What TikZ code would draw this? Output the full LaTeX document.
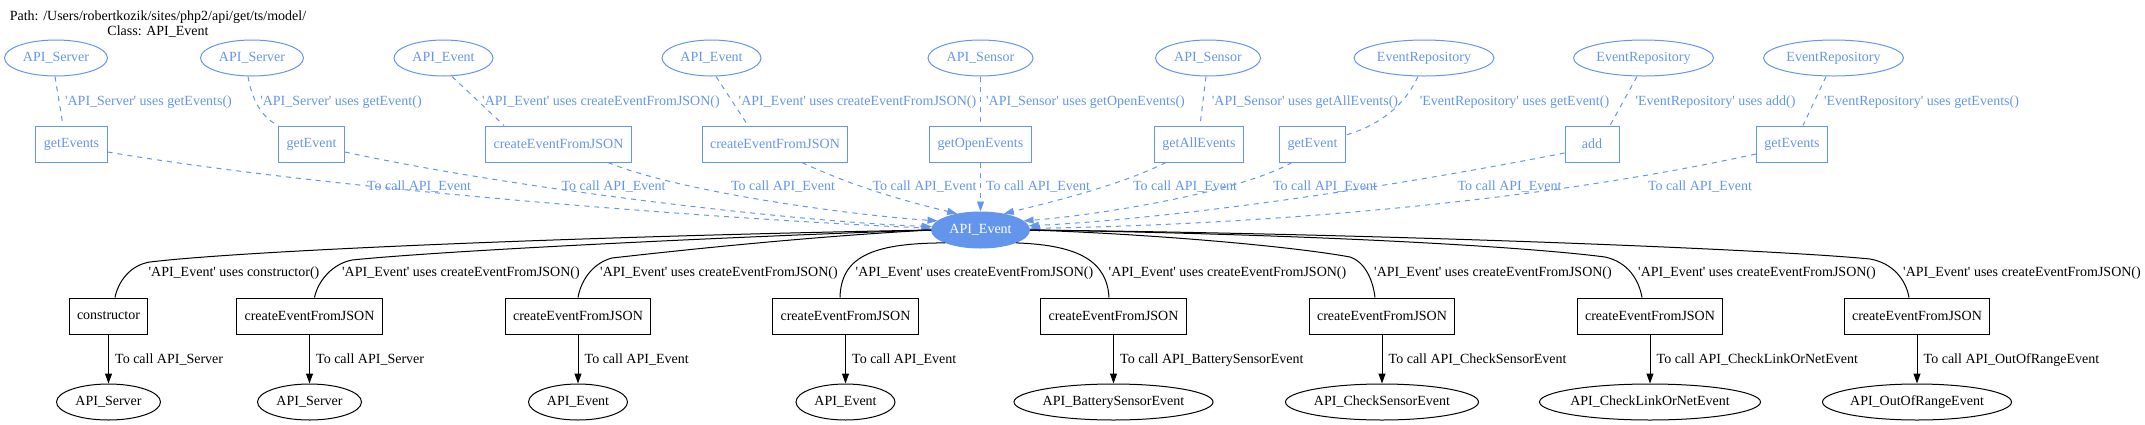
\documentclass[tikz,border=0pt]{standalone}
\usepackage{fontspec}
\newfontfamily\gv{Liberation Serif}
\usetikzlibrary{shapes.geometric,arrows.meta}
\definecolor{cb}{HTML}{6495ED}
\begin{document}
\begin{tikzpicture}[x=1pt,y=-1pt,
  every node/.style={font=\gv\fontsize{14}{14}\selectfont},
  mbox/.style={rectangle,draw,line width=1pt,minimum width=54pt,minimum height=36pt,inner xsep=8pt,inner ysep=0pt},
  mell/.style={ellipse,draw,line width=1pt,minimum height=36pt,inner sep=-20pt},
  bluenode/.style={draw=cb,text=cb},
  blab/.style={text=cb,inner sep=0pt},
  klab/.style={text=black,inner sep=0pt},
  dsh/.style={draw=cb,line width=1pt,dash pattern=on 5pt off 5pt},
  darr/.style={dsh,-{Triangle[length=10pt,width=7pt,fill=cb,line width=0.8pt]}},
  sol/.style={draw=black,line width=1pt},
  sarr/.style={sol,-{Triangle[length=10pt,width=7pt]}}
]
\useasboundingbox (0,0) rectangle (2145,424);

% title
\node[align=center,inner sep=0pt,font=\gv\fontsize{14}{15.5}\selectfont] (title) at (158,24) {Path: /Users/robertkozik/sites/php2/api/get/ts/model/\\Class: API\_Event};

% top ellipses
\node[mell,bluenode,minimum width=103pt] (t1) at (56,58) {API\_Server};
\node[mell,bluenode,minimum width=103pt] (t2) at (252,58) {API\_Server};
\node[mell,bluenode,minimum width=99pt] (t3) at (443.5,58) {API\_Event};
\node[mell,bluenode,minimum width=99pt] (t4) at (711.5,58) {API\_Event};
\node[mell,bluenode,minimum width=105pt] (t5) at (980.5,58) {API\_Sensor};
\node[mell,bluenode,minimum width=105pt] (t6) at (1208,58) {API\_Sensor};
\node[mell,bluenode,minimum width=140pt] (t7) at (1424,58) {EventRepository};
\node[mell,bluenode,minimum width=140pt] (t8) at (1643.5,58) {EventRepository};
\node[mell,bluenode,minimum width=140pt] (t9) at (1833.5,58) {EventRepository};

% top boxes
\node[mbox,bluenode] (b1) at (71.5,144) {getEvents};
\node[mbox,bluenode] (b2) at (311.5,144) {getEvent};
\node[mbox,bluenode] (b3) at (558.5,144) {createEventFromJSON};
\node[mbox,bluenode] (b4) at (775,144) {createEventFromJSON};
\node[mbox,bluenode] (b5) at (980.5,144) {getOpenEvents};
\node[mbox,bluenode] (b6) at (1199,144) {getAllEvents};
\node[mbox,bluenode] (b7) at (1312.5,144) {getEvent};
\node[mbox,bluenode] (b8) at (1592,144) {add};
\node[mbox,bluenode] (b9) at (1792,144) {getEvents};

% center
\node[mell,draw=cb,fill=cb,text=white,minimum width=98pt] (c) at (980.5,230) {API\_Event};

% bottom boxes
\node[mbox] (bb1) at (108.5,316) {constructor};
\node[mbox] (bb2) at (309.5,316) {createEventFromJSON};
\node[mbox] (bb3) at (578,316) {createEventFromJSON};
\node[mbox] (bb4) at (845.5,316) {createEventFromJSON};
\node[mbox] (bb5) at (1113.5,316) {createEventFromJSON};
\node[mbox] (bb6) at (1382,316) {createEventFromJSON};
\node[mbox] (bb7) at (1650,316) {createEventFromJSON};
\node[mbox] (bb8) at (1917,316) {createEventFromJSON};

% bottom ellipses
\node[mell,minimum width=104pt] (be1) at (108.5,402) {API\_Server};
\node[mell,minimum width=104pt] (be2) at (309.5,402) {API\_Server};
\node[mell,minimum width=99pt] (be3) at (578,402) {API\_Event};
\node[mell,minimum width=99pt] (be4) at (845.5,402) {API\_Event};
\node[mell,minimum width=199pt] (be5) at (1113.5,402) {API\_BatterySensorEvent};
\node[mell,minimum width=193pt] (be6) at (1382,402) {API\_CheckSensorEvent};
\node[mell,minimum width=221pt] (be7) at (1650,402) {API\_CheckLinkOrNetEvent};
\node[mell,minimum width=189pt] (be8) at (1917,402) {API\_OutOfRangeEvent};

% top edges: ellipse -> box
\draw[dsh] ([xshift=-1pt]t1.south) -- ([xshift=-8.5pt]b1.north);
\draw[dsh] ([xshift=-4pt]t2.south) .. controls (252,100) and (262,118) .. ([xshift=-33pt]b2.north);
\draw[dsh] ([xshift=8.5pt]t3.south) -- ([xshift=-54.5pt]b3.north);
\draw[dsh] ([xshift=4.5pt]t4.south) -- ([xshift=-27pt]b4.north);
\draw[dsh] (t5.south) -- (b5.north);
\draw[dsh] ([xshift=-2pt]t6.south) -- ([xshift=1pt]b6.north);
\draw[dsh] ([xshift=-6pt]t7.south) .. controls (1405,105) and (1380,125) .. ([yshift=9pt]b7.east);
\draw[dsh] ([xshift=-6.5pt]t8.south) -- ([xshift=18pt]b8.north);
\draw[dsh] ([xshift=-7.5pt]t9.south) -- ([xshift=11pt]b9.north);

\node[blab] (l1) at (148.5,102) {'API\_Server' uses getEvents()};
\node[blab] (l2) at (341,102) {'API\_Server' uses getEvent()};
\node[blab] (l3) at (601,102) {'API\_Event' uses createEventFromJSON()};
\node[blab] (l4) at (857.5,102) {'API\_Event' uses createEventFromJSON()};
\node[blab] (l5) at (1085.5,102) {'API\_Sensor' uses getOpenEvents()};
\node[blab] (l6) at (1305,102) {'API\_Sensor' uses getAllEvents()};
\node[blab] (l7) at (1514.5,102) {'EventRepository' uses getEvent()};
\node[blab] (l8) at (1715.5,102) {'EventRepository' uses add()};
\node[blab] (l9) at (1921.5,102) {'EventRepository' uses getEvents()};

% top edges: box -> center
\draw[darr] ([yshift=-8pt]b1.east) .. controls (320,188) and (700,218) .. (c.178);
\draw[darr] ([yshift=-8pt]b2.east) .. controls (520,190) and (800,222) .. (c.176);
\draw[darr] ([xshift=49.5pt]b3.south) .. controls (680,192) and (850,215) .. (c.168);
\draw[darr] ([xshift=27pt]b4.south) .. controls (850,185) and (900,200) .. (c.145);
\draw[darr] (b5.south) -- (c.north);
\draw[darr] ([xshift=-33pt]b6.south) .. controls (1120,185) and (1060,200) .. (c.35);
\draw[darr] ([xshift=-20.5pt]b7.south) .. controls (1240,192) and (1100,215) .. (c.12);
\draw[darr] ([yshift=-9pt]b8.west) .. controls (1350,195) and (1150,220) .. (c.5);
\draw[darr] ([yshift=-10pt]b9.west) .. controls (1500,210) and (1200,226) .. (c.2);

\node[blab] (m1) at (419,187) {To call API\_Event};
\node[blab] (m2) at (613.5,187) {To call API\_Event};
\node[blab] (m3) at (783,187) {To call API\_Event};
\node[blab] (m4) at (924.5,187) {To call API\_Event};
\node[blab] (m5) at (1038,187) {To call API\_Event};
\node[blab] (m6) at (1185,187) {To call API\_Event};
\node[blab] (m7) at (1325,187) {To call API\_Event};
\node[blab] (m8) at (1509.5,187) {To call API\_Event};
\node[blab] (m9) at (1700,187) {To call API\_Event};

% bottom edges: center -> boxes
\draw[sol] (c.west) .. controls (600,236) and (250,250) .. (150,262) .. controls (130,265) and (118,282) .. ([xshift=6.5pt]bb1.north);
\draw[sol] (c.west) .. controls (750,236) and (450,250) .. (352,260) .. controls (332,264) and (318,281) .. ([xshift=5pt]bb2.north);
\draw[sol] (c.west) .. controls (820,236) and (700,248) .. (612,258) .. controls (593,263) and (581,280) .. (bb3.north);
\draw[sol] (c.200) .. controls (870,243) and (841,258) .. ([xshift=-5.5pt]bb4.north);
\draw[sol] (c.-20) .. controls (1080,245) and (1107,262) .. ([xshift=-4.5pt]bb5.north);
\draw[sol] (c.east) .. controls (1150,234) and (1290,246) .. (1350,257) .. controls (1365,262) and (1373,280) .. ([xshift=-7pt]bb6.north);
\draw[sol] (c.east) .. controls (1300,234) and (1520,246) .. (1605,257) .. controls (1628,262) and (1639,280) .. ([xshift=-8pt]bb7.north);
\draw[sol] (c.east) .. controls (1400,234) and (1780,250) .. (1870,259) .. controls (1893,263) and (1906,280) .. ([xshift=-8pt]bb8.north);

\node[klab] (n1) at (234,273) {'API\_Event' uses constructor()};
\node[klab] (n2) at (461,273) {'API\_Event' uses createEventFromJSON()};
\node[klab] (n3) at (719,273) {'API\_Event' uses createEventFromJSON()};
\node[klab] (n4) at (974.5,273) {'API\_Event' uses createEventFromJSON()};
\node[klab] (n5) at (1227.5,273) {'API\_Event' uses createEventFromJSON()};
\node[klab] (n6) at (1493,273) {'API\_Event' uses createEventFromJSON()};
\node[klab] (n7) at (1757,273) {'API\_Event' uses createEventFromJSON()};
\node[klab] (n8) at (2022,273) {'API\_Event' uses createEventFromJSON()};

% bottom arrows: box -> ellipse
\draw[sarr] (bb1.south) -- (be1.north);
\draw[sarr] (bb2.south) -- (be2.north);
\draw[sarr] (bb3.south) -- (be3.north);
\draw[sarr] (bb4.south) -- (be4.north);
\draw[sarr] (bb5.south) -- (be5.north);
\draw[sarr] (bb6.south) -- (be6.north);
\draw[sarr] (bb7.south) -- (be7.north);
\draw[sarr] (bb8.south) -- (be8.north);

\node[klab,anchor=west] (p1) at (115,360) {To call API\_Server};
\node[klab,anchor=west] (p2) at (316,360) {To call API\_Server};
\node[klab,anchor=west] (p3) at (584.5,360) {To call API\_Event};
\node[klab,anchor=west] (p4) at (852,360) {To call API\_Event};
\node[klab,anchor=west] (p5) at (1120,360) {To call API\_BatterySensorEvent};
\node[klab,anchor=west] (p6) at (1388.5,360) {To call API\_CheckSensorEvent};
\node[klab,anchor=west] (p7) at (1656.5,360) {To call API\_CheckLinkOrNetEvent};
\node[klab,anchor=west] (p8) at (1923.5,360) {To call API\_OutOfRangeEvent};
\end{tikzpicture}
\end{document}
